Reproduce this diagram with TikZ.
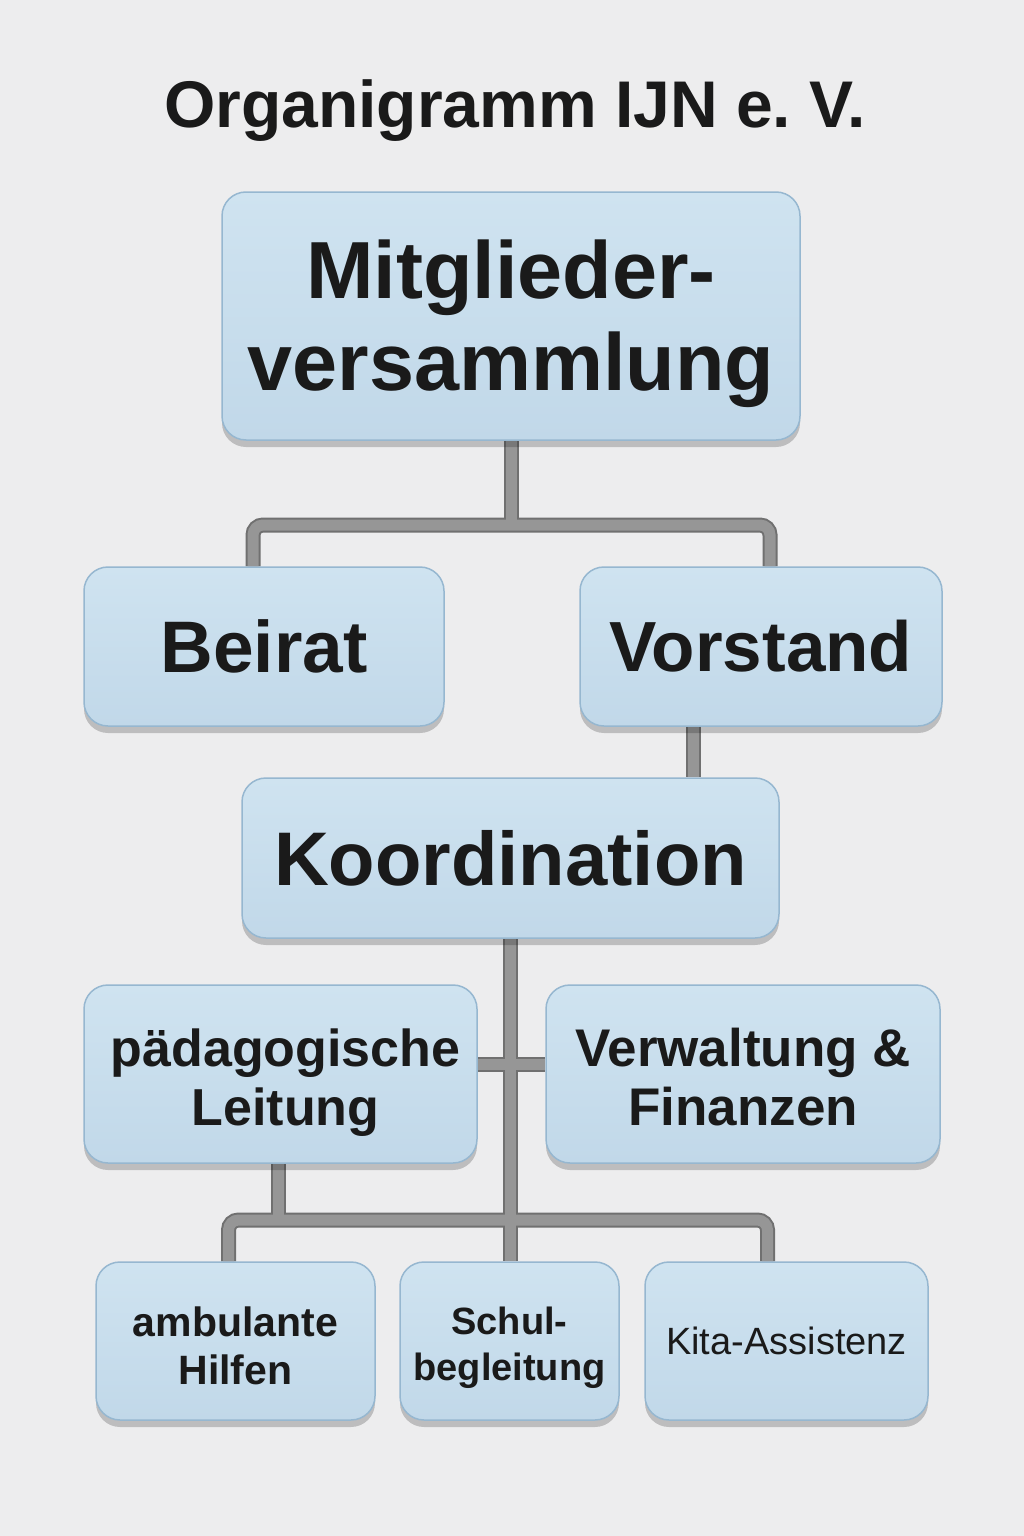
\documentclass[tikz,border=0pt]{standalone}
\usepackage{fontspec}
\setmainfont{Liberation Sans}
\usetikzlibrary{shadows}
\definecolor{bgc}{RGB}{237,237,238}
\definecolor{boxtop}{RGB}{207,227,240}
\definecolor{boxbot}{RGB}{193,216,233}
\definecolor{boxedge}{RGB}{150,183,208}
\definecolor{txt}{RGB}{26,26,26}
\definecolor{connfill}{RGB}{150,150,150}
\definecolor{connedge}{RGB}{112,112,112}
\pgfdeclarelayer{bg}\pgfdeclarelayer{conn}\pgfsetlayers{bg,conn,main}
\newcommand\boxtext[2]{\vbox{\vskip#1\hbox{\begin{tabular}{@{}c@{}}#2\end{tabular}}}}
\frenchspacing
\begin{document}
\begin{tikzpicture}[x=1pt,y=-1pt,
 orgbox/.style={draw=boxedge, line width=1.5pt, rounded corners=24pt, top color=boxtop, bottom color=boxbot, inner sep=0pt, align=center, text=txt,
   drop shadow={shadow xshift=0pt, shadow yshift=-7pt, opacity=0.2, fill=black}},
 connout/.style={line width=15pt, draw=connedge, rounded corners=10pt},
 connin/.style={line width=11pt, draw=connfill, rounded corners=10pt}]
\begin{pgfonlayer}{bg}
\fill[bgc] (0,0) rectangle (1024,1536);
\end{pgfonlayer}
\useasboundingbox (0,0) rectangle (1024,1536);

\node[font=\bfseries\fontsize{66}{70}\selectfont, text=txt] (title) at (515,111) {Organigramm IJN e. V.};

\node[orgbox, minimum width=578pt, minimum height=248pt, font=\bfseries\fontsize{81}{92}\selectfont] (mv) at (511,316) {\boxtext{20pt}{Mitglieder-\\versammlung}};
\node[orgbox, minimum width=360pt, minimum height=159pt, font=\bfseries\fontsize{73}{80}\selectfont] (beirat) at (264,646.5) {Beirat};
\node[orgbox, minimum width=362pt, minimum height=159pt, font=\bfseries\fontsize{71}{80}\selectfont] (vorstand) at (761,646.5) {Vorstand};
\node[orgbox, minimum width=537pt, minimum height=160pt, font=\bfseries\fontsize{76}{80}\selectfont] (koord) at (510.5,858) {Koordination};
\node[orgbox, minimum width=393pt, minimum height=178pt, font=\bfseries\fontsize{52}{59}\selectfont] (paed) at (280.5,1074) {\boxtext{20pt}{\hspace*{10pt}pädagogische\\\hspace*{10pt}Leitung}};
\node[orgbox, minimum width=394pt, minimum height=178pt, font=\bfseries\fontsize{53}{59}\selectfont] (verw) at (743,1074) {\boxtext{20pt}{Verwaltung \&\\Finanzen}};
\node[orgbox, minimum width=279pt, minimum height=158pt, font=\bfseries\fontsize{41}{48}\selectfont] (amb) at (235.5,1341) {\boxtext{20pt}{ambulante\\Hilfen}};
\node[orgbox, minimum width=219pt, minimum height=158pt, font=\bfseries\fontsize{38}{46}\selectfont] (schul) at (509.5,1341) {\boxtext{14pt}{Schul-\\begleitung}};
\node[orgbox, minimum width=283pt, minimum height=158pt, font=\fontsize{38}{42}\selectfont] (kita) at (786.5,1341) {Kita-Assistenz};

\coordinate (ya) at (0,525);
\coordinate (yb) at (0,1220);
\begin{pgfonlayer}{conn}
\foreach \st in {connout,connin}{
  \draw[\st] (mv.south) -- (mv.south |- ya);
  \draw[\st] ([xshift=-11pt]beirat.north) |- (mv.south |- ya) -| ([xshift=9pt]vorstand.north);
  \draw[\st] ([xshift=-68pt]vorstand.south) -- ([xshift=-68pt]vorstand.south |- koord.north);
  \draw[\st] (koord.south) -- (koord.south |- schul.north);
  \draw[\st] ([yshift=10pt]paed.east) -- ([yshift=10pt]paed.east -| verw.west);
  \draw[\st] ([xshift=-7pt]amb.north) |- (koord.south |- yb) -| ([xshift=-19pt]kita.north);
  \draw[\st] ([xshift=-2pt]paed.south) -- ([xshift=-2pt]paed.south |- yb);
}
\end{pgfonlayer}
\end{tikzpicture}
\end{document}
